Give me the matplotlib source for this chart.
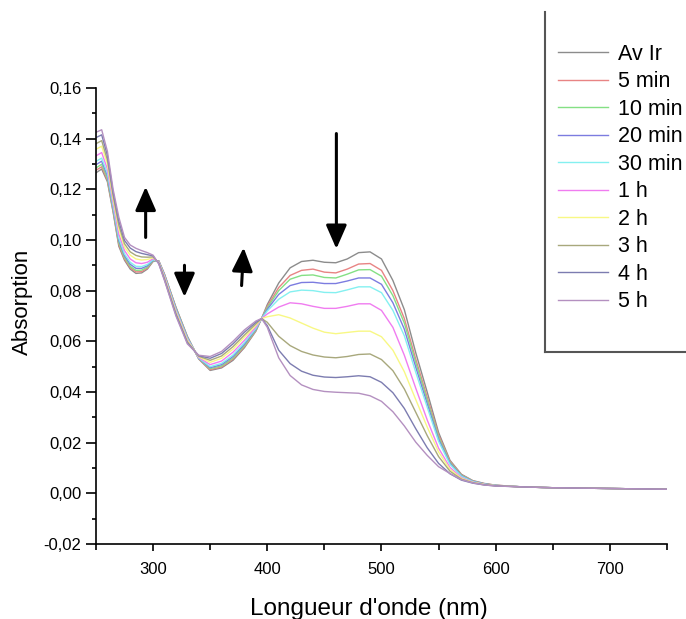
import matplotlib
matplotlib.use("Agg")
import matplotlib.pyplot as plt
from matplotlib.lines import Line2D
from matplotlib.ticker import FuncFormatter, MultipleLocator

plt.rcParams['font.family'] = ['Liberation Sans', 'DejaVu Sans']

# wavelength grid (nm) at which the curves were read
wavelength = [250, 255, 260, 265, 270, 275, 280, 285, 290, 295, 300, 305, 310,
              320, 330, 340, 350, 360, 370, 380, 390, 395,
              400, 410, 420, 430, 440, 450, 460, 470, 480, 490, 500,
              510, 520, 530, 540, 550, 560, 570, 580, 590, 600,
              625, 650, 700, 750]

av_ir = [0.1265, 0.1280, 0.1230, 0.1110, 0.0975, 0.0920, 0.0885, 0.0868, 0.0870, 0.0885, 0.0915, 0.0918, 0.0865,
         0.0735, 0.0620, 0.0530, 0.0485, 0.0495, 0.0525, 0.0575, 0.0640, 0.0690,
         0.0745, 0.0830, 0.0890, 0.0915, 0.0920, 0.0912, 0.0910, 0.0925, 0.0950, 0.0953, 0.0925,
         0.0840, 0.0725, 0.0555, 0.0400, 0.0240, 0.0130, 0.0075, 0.0050, 0.0039, 0.0032,
         0.0025, 0.0022, 0.0019, 0.0016]
min5 = [0.1275, 0.1289, 0.1237, 0.1115, 0.0982, 0.0925, 0.0891, 0.0874, 0.0875, 0.0889, 0.0917, 0.0917, 0.0864,
        0.0733, 0.0618, 0.0531, 0.0488, 0.0499, 0.0530, 0.0579, 0.0642, 0.0690,
        0.0738, 0.0812, 0.0860, 0.0880, 0.0885, 0.0873, 0.0870, 0.0885, 0.0905, 0.0907, 0.0880,
        0.0800, 0.0690, 0.0530, 0.0380, 0.0230, 0.0126, 0.0073, 0.0049, 0.0038, 0.0032,
        0.0025, 0.0022, 0.0019, 0.0016]
min10 = [0.1284, 0.1299, 0.1244, 0.1121, 0.0989, 0.0931, 0.0896, 0.0880, 0.0881, 0.0893, 0.0918, 0.0916, 0.0862,
         0.0731, 0.0616, 0.0532, 0.0492, 0.0503, 0.0534, 0.0583, 0.0645, 0.0690,
         0.0732, 0.0800, 0.0845, 0.0860, 0.0862, 0.0852, 0.0850, 0.0865, 0.0882, 0.0883, 0.0857,
         0.0780, 0.0672, 0.0516, 0.0368, 0.0222, 0.0122, 0.0071, 0.0048, 0.0037, 0.0031,
         0.0025, 0.0022, 0.0019, 0.0016]
min20 = [0.1297, 0.1311, 0.1254, 0.1128, 0.0998, 0.0938, 0.0904, 0.0888, 0.0888, 0.0898, 0.0920, 0.0915, 0.0860,
         0.0728, 0.0614, 0.0533, 0.0496, 0.0508, 0.0540, 0.0589, 0.0648, 0.0690,
         0.0726, 0.0785, 0.0820, 0.0832, 0.0833, 0.0828, 0.0828, 0.0838, 0.0850, 0.0850, 0.0825,
         0.0752, 0.0648, 0.0498, 0.0354, 0.0213, 0.0118, 0.0069, 0.0047, 0.0037, 0.0031,
         0.0025, 0.0022, 0.0019, 0.0016]
min30 = [0.1310, 0.1323, 0.1264, 0.1135, 0.1007, 0.0945, 0.0912, 0.0896, 0.0895, 0.0903, 0.0922, 0.0914, 0.0858,
         0.0725, 0.0612, 0.0534, 0.0500, 0.0513, 0.0546, 0.0595, 0.0651, 0.0690,
         0.0720, 0.0766, 0.0795, 0.0802, 0.0800, 0.0793, 0.0792, 0.0803, 0.0815, 0.0815, 0.0792,
         0.0722, 0.0622, 0.0478, 0.0340, 0.0205, 0.0114, 0.0067, 0.0046, 0.0036, 0.0031,
         0.0025, 0.0022, 0.0019, 0.0016]
h1 = [0.1332, 0.1345, 0.1280, 0.1148, 0.1023, 0.0958, 0.0925, 0.0910, 0.0907, 0.0912, 0.0926, 0.0913, 0.0855,
      0.0720, 0.0607, 0.0536, 0.0508, 0.0522, 0.0557, 0.0604, 0.0657, 0.0690,
      0.0708, 0.0735, 0.0752, 0.0748, 0.0738, 0.0730, 0.0730, 0.0738, 0.0748, 0.0748, 0.0722,
      0.0655, 0.0545, 0.0415, 0.0290, 0.0178, 0.0102, 0.0062, 0.0044, 0.0035, 0.0030,
      0.0025, 0.0022, 0.0019, 0.0016]
h2 = [0.1358, 0.1370, 0.1300, 0.1162, 0.1042, 0.0972, 0.0940, 0.0925, 0.0921, 0.0923, 0.0930, 0.0910, 0.0851,
      0.0715, 0.0603, 0.0539, 0.0517, 0.0533, 0.0569, 0.0616, 0.0663, 0.0690,
      0.0697, 0.0705, 0.0692, 0.0672, 0.0652, 0.0636, 0.0630, 0.0635, 0.0640, 0.0640, 0.0618,
      0.0565, 0.0480, 0.0370, 0.0262, 0.0163, 0.0094, 0.0059, 0.0043, 0.0035, 0.0030,
      0.0025, 0.0022, 0.0019, 0.0016]
h3 = [0.1380, 0.1392, 0.1316, 0.1175, 0.1058, 0.0985, 0.0953, 0.0939, 0.0933, 0.0932, 0.0933, 0.0909, 0.0847,
      0.0710, 0.0598, 0.0541, 0.0525, 0.0542, 0.0579, 0.0625, 0.0669, 0.0690,
      0.0675, 0.0620, 0.0583, 0.0560, 0.0546, 0.0538, 0.0535, 0.0540, 0.0548, 0.0550, 0.0528,
      0.0484, 0.0412, 0.0320, 0.0228, 0.0145, 0.0087, 0.0056, 0.0042, 0.0034, 0.0030,
      0.0025, 0.0022, 0.0019, 0.0016]
h4 = [0.1404, 0.1415, 0.1334, 0.1188, 0.1075, 0.0998, 0.0968, 0.0954, 0.0947, 0.0942, 0.0937, 0.0907, 0.0843,
      0.0705, 0.0594, 0.0543, 0.0533, 0.0552, 0.0590, 0.0636, 0.0675, 0.0690,
      0.0662, 0.0565, 0.0512, 0.0482, 0.0466, 0.0459, 0.0457, 0.0460, 0.0464, 0.0460, 0.0438,
      0.0397, 0.0335, 0.0255, 0.0180, 0.0118, 0.0077, 0.0052, 0.0040, 0.0033, 0.0029,
      0.0025, 0.0022, 0.0019, 0.0016]
h5 = [0.1425, 0.1435, 0.1350, 0.1200, 0.1090, 0.1010, 0.0980, 0.0967, 0.0958, 0.0950, 0.0940, 0.0905, 0.0840,
      0.0700, 0.0590, 0.0545, 0.0540, 0.0560, 0.0600, 0.0645, 0.0680, 0.0690,
      0.0655, 0.0535, 0.0465, 0.0428, 0.0410, 0.0402, 0.0399, 0.0397, 0.0395, 0.0385, 0.0363,
      0.0322, 0.0266, 0.0202, 0.0150, 0.0105, 0.0078, 0.0054, 0.0041, 0.0033, 0.0029,
      0.0025, 0.0022, 0.0019, 0.0016]

labels = ['Av Ir', '5 min', '10 min', '20 min', '30 min', '1 h', '2 h', '3 h', '4 h', '5 h']
series = [av_ir, min5, min10, min20, min30, h1, h2, h3, h4, h5]
colors = ['#8c8c8c', '#e88484', '#84e084', '#7c7ce0', '#84f0f0',
          '#f07cf0', '#f8f884', '#a8a87c', '#7c7cb0', '#b490c0']

# arrows (tail -> head), in data units
arrows = [((293.5, 0.101), (293.5, 0.121)),
          ((327.5, 0.090), (327.5, 0.0775)),
          ((377.5, 0.082), (379.3, 0.097)),
          ((460.5, 0.142), (460.5, 0.0965))]

fig = plt.figure(figsize=(6.86, 6.19), dpi=100)
ax = fig.add_axes([0.1399, 0.1212, 0.8324, 0.7367])

handles = []
for y, lab, c in zip(series, labels, colors):
    ln, = ax.plot(wavelength, y, color=c, lw=1.0, label=lab)
    handles.append(ln)

for (x0, y0), (x1, y1) in arrows:
    ax.annotate('', xy=(x1, y1), xytext=(x0, y0),
                arrowprops=dict(arrowstyle='-|>,head_length=0.8,head_width=0.35',
                                lw=2.2, color='black', mutation_scale=18,
                                shrinkA=0, shrinkB=0))

ax.set_xlim(250, 750)
ax.set_ylim(-0.02, 0.16)
ax.set_xticks([300, 400, 500, 600, 700])
ax.xaxis.set_minor_locator(MultipleLocator(50))
ax.yaxis.set_major_locator(MultipleLocator(0.02))
ax.yaxis.set_minor_locator(MultipleLocator(0.01))
ax.yaxis.set_major_formatter(FuncFormatter(lambda v, p: ('%.2f' % v).replace('.', ',')))

for s in ['top', 'right']:
    ax.spines[s].set_visible(False)
for s in ['left', 'bottom']:
    ax.spines[s].set_linewidth(1.2)
ax.tick_params(axis='both', which='both', direction='out', width=1.2, labelsize=12)
ax.tick_params(axis='y', which='major', length=7)
ax.tick_params(axis='y', which='minor', length=3)
ax.tick_params(axis='x', which='major', length=5, pad=8)
ax.tick_params(axis='x', which='minor', length=4)

ax.set_xlabel("Longueur d'onde (nm)", fontsize=17.5)
ax.xaxis.set_label_coords(0.478, -0.118)
ax.set_ylabel('Absorption', fontsize=16)
ax.yaxis.set_label_coords(-0.11, 0.53)

ax.legend(handles=handles, loc='upper left', bbox_to_anchor=(558 / 686, 1 - 44 / 619),
          bbox_transform=fig.transFigure, frameon=False, fontsize=15.5,
          borderpad=0, borderaxespad=0, handlelength=2.33, handletextpad=0.47,
          labelspacing=0.3)

# legend box, cut by the right edge of the picture
fig.add_artist(Line2D([545 / 686, 545 / 686], [1 - 12 / 619, 1 - 352 / 619],
                      transform=fig.transFigure, color='#555555', lw=1.5))
fig.add_artist(Line2D([545 / 686, 1.0], [1 - 352 / 619, 1 - 352 / 619],
                      transform=fig.transFigure, color='#555555', lw=1.5))

fig.savefig('out.png', dpi=100)
